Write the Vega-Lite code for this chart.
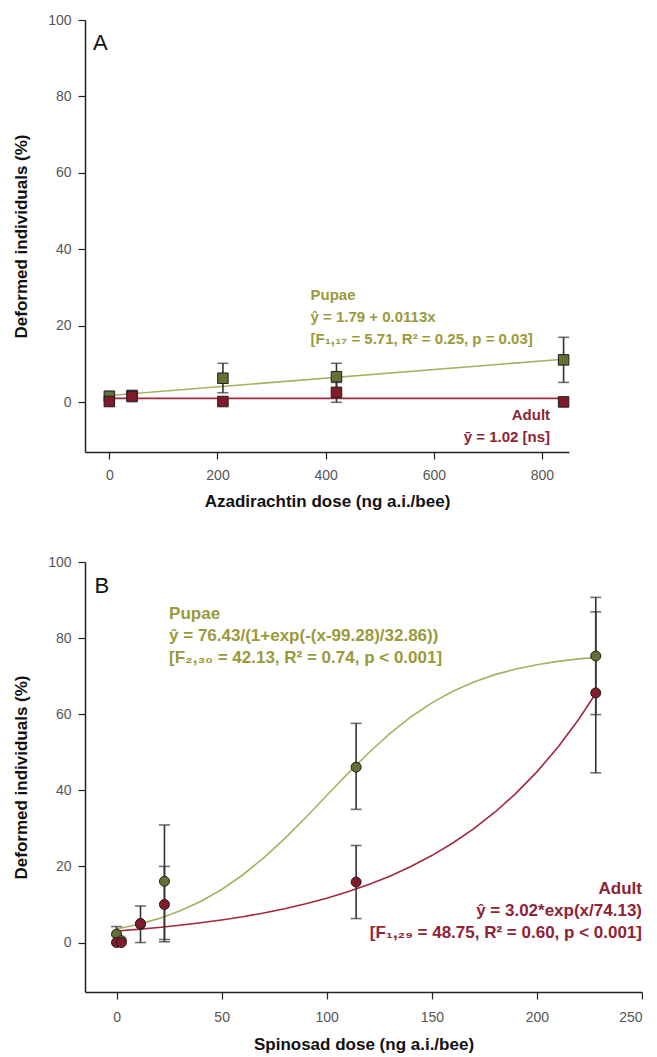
{
  "$schema": "https://vega.github.io/schema/vega-lite/v6.json",
  "background": "white",
  "padding": {"left": 12, "top": 13, "right": 0, "bottom": 4},
  "config": {
    "view": {"stroke": null},
    "font": "Liberation Sans",
    "axis": {
      "grid": false,
      "domainColor": "#222",
      "domainWidth": 1.5,
      "tickColor": "#222",
      "tickWidth": 1.2,
      "tickSize": 7,
      "labelFont": "Liberation Sans",
      "labelFontSize": 14,
      "labelColor": "#555",
      "titleFont": "Liberation Sans",
      "titleFontSize": 17,
      "titleFontWeight": "bold",
      "titleColor": "#111"
    }
  },
  "datasets": {
    "aza": [
      {"dose": 0, "stage": "Pupae", "pct": 1.6},
      {"dose": 42, "stage": "Pupae", "pct": 1.8},
      {"dose": 210, "stage": "Pupae", "pct": 6.3, "lo": 2.5, "hi": 10.2},
      {"dose": 420, "stage": "Pupae", "pct": 6.7, "lo": 3.3, "hi": 10.2},
      {"dose": 840, "stage": "Pupae", "pct": 11.1, "lo": 5.2, "hi": 17.0},
      {"dose": 0, "stage": "Adult", "pct": 0.2},
      {"dose": 42, "stage": "Adult", "pct": 1.5},
      {"dose": 210, "stage": "Adult", "pct": 0.2},
      {"dose": 420, "stage": "Adult", "pct": 2.6, "lo": 0.0, "hi": 5.2},
      {"dose": 840, "stage": "Adult", "pct": 0.1}
    ],
    "azaFit": [
      {"dose": 0, "stage": "Pupae", "pct": 1.79},
      {"dose": 840, "stage": "Pupae", "pct": 11.28},
      {"dose": 0, "stage": "Adult", "pct": 1.02},
      {"dose": 840, "stage": "Adult", "pct": 1.02}
    ],
    "spin": [
      {"dose": 0, "stage": "Pupae", "pct": 2.2, "lo": 0.0, "hi": 4.2},
      {"dose": 2.28, "stage": "Pupae", "pct": 0.5},
      {"dose": 11.4, "stage": "Pupae", "pct": 4.8},
      {"dose": 22.8, "stage": "Pupae", "pct": 16.1, "lo": 0.8, "hi": 30.9},
      {"dose": 114, "stage": "Pupae", "pct": 46.1, "lo": 35.0, "hi": 57.6},
      {"dose": 228, "stage": "Pupae", "pct": 75.3, "lo": 59.9, "hi": 90.7},
      {"dose": 0, "stage": "Adult", "pct": 0.0},
      {"dose": 2.28, "stage": "Adult", "pct": 0.0},
      {"dose": 11.4, "stage": "Adult", "pct": 5.0, "lo": 0.0, "hi": 9.6},
      {"dose": 22.8, "stage": "Adult", "pct": 10.0, "lo": 0.2, "hi": 20.0},
      {"dose": 114, "stage": "Adult", "pct": 15.9, "lo": 6.3, "hi": 25.5},
      {"dose": 228, "stage": "Adult", "pct": 65.6, "lo": 44.6, "hi": 86.9}
    ],
    "spinFit": [
      {"dose": 0, "stage": "Pupae", "pct": 3.55},
      {"dose": 10, "stage": "Pupae", "pct": 4.74},
      {"dose": 20, "stage": "Pupae", "pct": 6.28},
      {"dose": 30, "stage": "Pupae", "pct": 8.28},
      {"dose": 40, "stage": "Pupae", "pct": 10.80},
      {"dose": 50, "stage": "Pupae", "pct": 13.95},
      {"dose": 60, "stage": "Pupae", "pct": 17.75},
      {"dose": 70, "stage": "Pupae", "pct": 22.23},
      {"dose": 80, "stage": "Pupae", "pct": 27.32},
      {"dose": 90, "stage": "Pupae", "pct": 32.86},
      {"dose": 100, "stage": "Pupae", "pct": 38.63},
      {"dose": 110, "stage": "Pupae", "pct": 44.39},
      {"dose": 120, "stage": "Pupae", "pct": 49.88},
      {"dose": 130, "stage": "Pupae", "pct": 54.88},
      {"dose": 140, "stage": "Pupae", "pct": 59.27},
      {"dose": 150, "stage": "Pupae", "pct": 62.98},
      {"dose": 160, "stage": "Pupae", "pct": 66.03},
      {"dose": 170, "stage": "Pupae", "pct": 68.47},
      {"dose": 180, "stage": "Pupae", "pct": 70.40},
      {"dose": 190, "stage": "Pupae", "pct": 71.88},
      {"dose": 200, "stage": "Pupae", "pct": 73.02},
      {"dose": 210, "stage": "Pupae", "pct": 73.89},
      {"dose": 220, "stage": "Pupae", "pct": 74.54},
      {"dose": 228, "stage": "Pupae", "pct": 74.94},
      {"dose": 0, "stage": "Adult", "pct": 3.02},
      {"dose": 10, "stage": "Adult", "pct": 3.46},
      {"dose": 20, "stage": "Adult", "pct": 3.96},
      {"dose": 30, "stage": "Adult", "pct": 4.53},
      {"dose": 40, "stage": "Adult", "pct": 5.18},
      {"dose": 50, "stage": "Adult", "pct": 5.93},
      {"dose": 60, "stage": "Adult", "pct": 6.78},
      {"dose": 70, "stage": "Adult", "pct": 7.76},
      {"dose": 80, "stage": "Adult", "pct": 8.89},
      {"dose": 90, "stage": "Adult", "pct": 10.17},
      {"dose": 100, "stage": "Adult", "pct": 11.64},
      {"dose": 110, "stage": "Adult", "pct": 13.32},
      {"dose": 120, "stage": "Adult", "pct": 15.24},
      {"dose": 130, "stage": "Adult", "pct": 17.44},
      {"dose": 140, "stage": "Adult", "pct": 19.96},
      {"dose": 150, "stage": "Adult", "pct": 22.85},
      {"dose": 160, "stage": "Adult", "pct": 26.15},
      {"dose": 170, "stage": "Adult", "pct": 29.92},
      {"dose": 180, "stage": "Adult", "pct": 34.24},
      {"dose": 190, "stage": "Adult", "pct": 39.19},
      {"dose": 200, "stage": "Adult", "pct": 44.85},
      {"dose": 210, "stage": "Adult", "pct": 51.33},
      {"dose": 220, "stage": "Adult", "pct": 58.74},
      {"dose": 228, "stage": "Adult", "pct": 65.43}
    ],
    "one": [{}]
  },
  "bounds": "flush",
  "spacing": 110,
  "vconcat": [
    {
      "width": 484,
      "height": 432,
      "layer": [
        {
          "data": {"name": "azaFit"},
          "mark": {"type": "line", "strokeWidth": 1.6},
          "encoding": {
            "x": {
              "field": "dose", "type": "quantitative",
              "scale": {"domain": [-45, 850], "nice": false, "zero": false},
              "axis": {"title": "Azadirachtin dose (ng a.i./bee)", "values": [0, 200, 400, 600, 800], "labelPadding": 9, "titlePadding": 11}
            },
            "y": {
              "field": "pct", "type": "quantitative",
              "scale": {"domain": [-13, 100], "nice": false, "zero": false},
              "axis": {"title": "Deformed individuals (%)", "values": [0, 20, 40, 60, 80, 100], "labelPadding": 7, "titlePadding": 17}
            },
            "stroke": {"field": "stage", "type": "nominal", "scale": {"domain": ["Pupae", "Adult"], "range": ["#aab060", "#a3283e"]}, "legend": null}
          }
        },
        {
          "data": {"name": "aza"},
          "transform": [{"filter": "isValid(datum.lo)"}],
          "mark": {"type": "rule", "color": "#333", "strokeWidth": 1.6},
          "encoding": {
            "x": {"field": "dose", "type": "quantitative"},
            "y": {"field": "lo", "type": "quantitative"},
            "y2": {"field": "hi"}
          }
        },
        {
          "data": {"name": "aza"},
          "transform": [{"filter": "isValid(datum.lo)"}],
          "mark": {"type": "tick", "orient": "horizontal", "color": "#333", "size": 11, "thickness": 1.6},
          "encoding": {
            "x": {"field": "dose", "type": "quantitative"},
            "y": {"field": "lo", "type": "quantitative"}
          }
        },
        {
          "data": {"name": "aza"},
          "transform": [{"filter": "isValid(datum.hi)"}],
          "mark": {"type": "tick", "orient": "horizontal", "color": "#333", "size": 11, "thickness": 1.6},
          "encoding": {
            "x": {"field": "dose", "type": "quantitative"},
            "y": {"field": "hi", "type": "quantitative"}
          }
        },
        {
          "data": {"name": "aza"},
          "mark": {"type": "square", "size": 110, "filled": true, "stroke": "#1e1e1e", "strokeWidth": 1, "opacity": 1},
          "encoding": {
            "x": {"field": "dose", "type": "quantitative"},
            "y": {"field": "pct", "type": "quantitative"},
            "fill": {"field": "stage", "type": "nominal", "scale": {"domain": ["Pupae", "Adult"], "range": ["#627232", "#821a2a"]}, "legend": null}
          }
        },
        {
          "data": {"name": "one"},
          "mark": {"type": "text", "align": "left", "baseline": "middle", "fontSize": 22, "color": "#111", "text": "A"},
          "encoding": {
            "x": {"datum": -30, "type": "quantitative"},
            "y": {"datum": 94, "type": "quantitative"}
          }
        },
        {
          "data": {"name": "one"},
          "mark": {"type": "text", "align": "left", "baseline": "top", "fontSize": 15, "fontWeight": "bold", "color": "#9a9a3a", "lineHeight": 22,
            "text": ["Pupae", "ŷ = 1.79 + 0.0113x", "[F₁,₁₇ = 5.71, R² = 0.25, p = 0.03]"]},
          "encoding": {
            "x": {"datum": 372, "type": "quantitative"},
            "y": {"datum": 29.8, "type": "quantitative"}
          }
        },
        {
          "data": {"name": "one"},
          "mark": {"type": "text", "align": "right", "baseline": "top", "fontSize": 15, "fontWeight": "bold", "color": "#8e2336", "lineHeight": 22,
            "text": ["Adult", "ȳ = 1.02 [ns]"]},
          "encoding": {
            "x": {"datum": 815, "type": "quantitative"},
            "y": {"datum": -1.6, "type": "quantitative"}
          }
        }
      ]
    },
    {
      "width": 557,
      "height": 430,
      "layer": [
        {
          "data": {"name": "spinFit"},
          "mark": {"type": "line", "strokeWidth": 1.6},
          "encoding": {
            "x": {
              "field": "dose", "type": "quantitative",
              "scale": {"domain": [-15, 250], "nice": false, "zero": false},
              "axis": {"title": "Spinosad dose (ng a.i./bee)", "values": [0, 50, 100, 150, 200, 250], "labelPadding": 11, "titlePadding": 12}
            },
            "y": {
              "field": "pct", "type": "quantitative",
              "scale": {"domain": [-13, 100], "nice": false, "zero": false},
              "axis": {"title": "Deformed individuals (%)", "values": [0, 20, 40, 60, 80, 100], "labelPadding": 7, "titlePadding": 17}
            },
            "stroke": {"field": "stage", "type": "nominal", "scale": {"domain": ["Pupae", "Adult"], "range": ["#aab060", "#a3283e"]}, "legend": null}
          }
        },
        {
          "data": {"name": "spin"},
          "transform": [{"filter": "isValid(datum.lo)"}],
          "mark": {"type": "rule", "color": "#333", "strokeWidth": 1.6},
          "encoding": {
            "x": {"field": "dose", "type": "quantitative"},
            "y": {"field": "lo", "type": "quantitative"},
            "y2": {"field": "hi"}
          }
        },
        {
          "data": {"name": "spin"},
          "transform": [{"filter": "isValid(datum.lo)"}],
          "mark": {"type": "tick", "orient": "horizontal", "color": "#333", "size": 11, "thickness": 1.6},
          "encoding": {
            "x": {"field": "dose", "type": "quantitative"},
            "y": {"field": "lo", "type": "quantitative"}
          }
        },
        {
          "data": {"name": "spin"},
          "transform": [{"filter": "isValid(datum.hi)"}],
          "mark": {"type": "tick", "orient": "horizontal", "color": "#333", "size": 11, "thickness": 1.6},
          "encoding": {
            "x": {"field": "dose", "type": "quantitative"},
            "y": {"field": "hi", "type": "quantitative"}
          }
        },
        {
          "data": {"name": "spin"},
          "mark": {"type": "circle", "size": 100, "stroke": "#1e1e1e", "strokeWidth": 1, "opacity": 1},
          "encoding": {
            "x": {"field": "dose", "type": "quantitative"},
            "y": {"field": "pct", "type": "quantitative"},
            "fill": {"field": "stage", "type": "nominal", "scale": {"domain": ["Pupae", "Adult"], "range": ["#627232", "#821a2a"]}, "legend": null}
          }
        },
        {
          "data": {"name": "one"},
          "mark": {"type": "text", "align": "left", "baseline": "middle", "fontSize": 22, "color": "#111", "text": "B"},
          "encoding": {
            "x": {"datum": -10.5, "type": "quantitative"},
            "y": {"datum": 93.7, "type": "quantitative"}
          }
        },
        {
          "data": {"name": "one"},
          "mark": {"type": "text", "align": "left", "baseline": "top", "fontSize": 17, "fontWeight": "bold", "color": "#9a9a3a", "lineHeight": 22,
            "text": ["Pupae", "ŷ = 76.43/(1+exp(-(x-99.28)/32.86))", "[F₂,₃₀ = 42.13, R² = 0.74, p < 0.001]"]},
          "encoding": {
            "x": {"datum": 25, "type": "quantitative"},
            "y": {"datum": 88.4, "type": "quantitative"}
          }
        },
        {
          "data": {"name": "one"},
          "mark": {"type": "text", "align": "right", "baseline": "top", "fontSize": 17, "fontWeight": "bold", "color": "#8e2336", "lineHeight": 22,
            "text": ["Adult", "ŷ = 3.02*exp(x/74.13)", "[F₁,₂₉ = 48.75, R² = 0.60, p < 0.001]"]},
          "encoding": {
            "x": {"datum": 250, "type": "quantitative"},
            "y": {"datum": 16.1, "type": "quantitative"}
          }
        }
      ]
    }
  ]
}
